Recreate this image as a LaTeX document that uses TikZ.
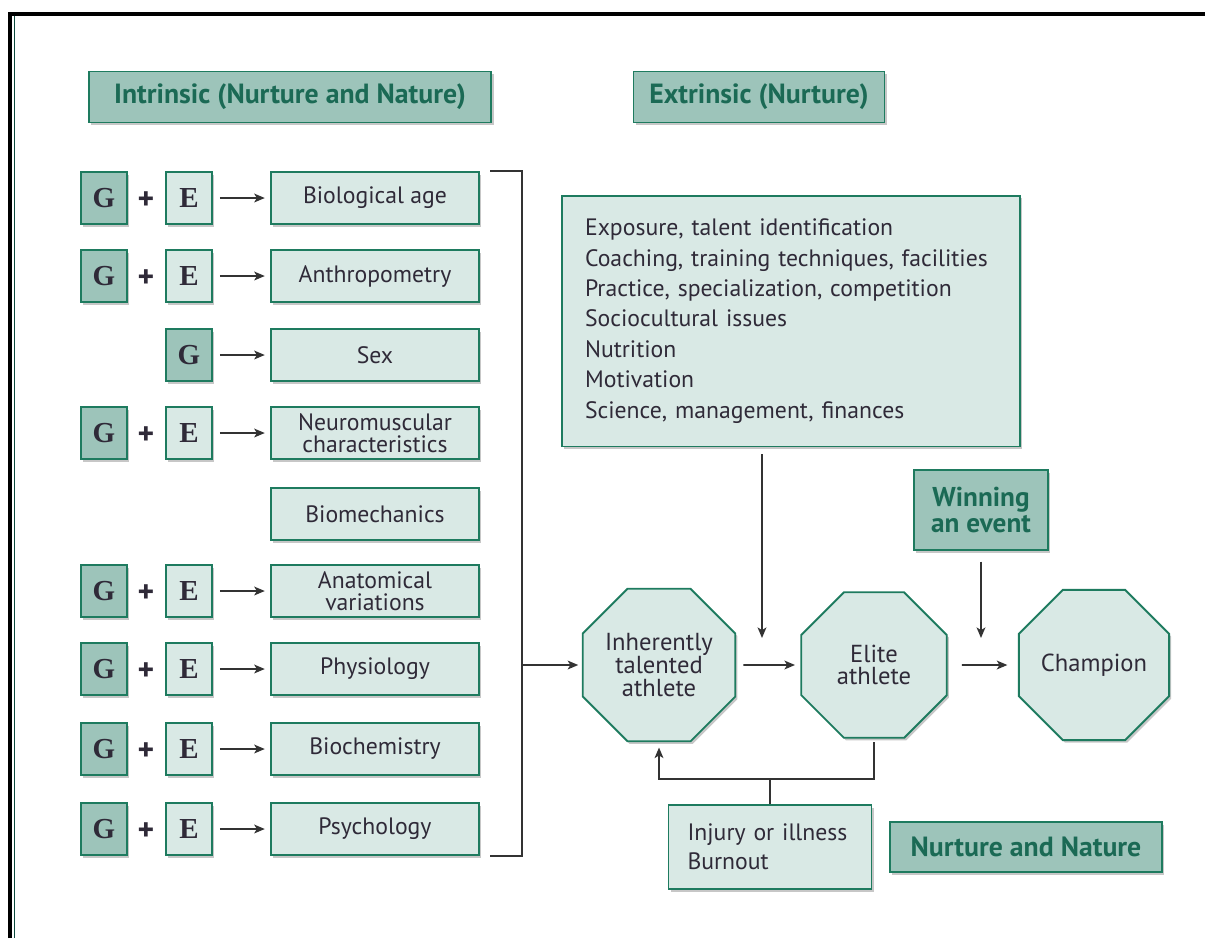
\documentclass[tikz,border=0pt]{standalone}
\usepackage{fontspec}
\setmainfont{PT Sans}
\newfontfamily\gefont{Liberation Serif}
\usetikzlibrary{positioning,shapes.geometric,arrows.meta,shadows}

\definecolor{boxdark}{HTML}{9DC4BA}
\definecolor{boxlight}{HTML}{D9E9E5}
\definecolor{boxline}{HTML}{1E7B5F}
\definecolor{headtext}{HTML}{1B6A55}
\definecolor{bodytext}{HTML}{2F2A38}
\definecolor{connline}{HTML}{333333}
\definecolor{frameteal}{HTML}{0E4B3F}

\tikzset{
  boxshadow/.style={drop shadow={shadow xshift=1.2pt,shadow yshift=-1.5pt,opacity=0.22,fill=black}},
  factor/.style={draw=boxline,line width=1.1pt,fill=boxlight,boxshadow,minimum width=4.16cm,minimum height=1.04cm,
    align=center,text=bodytext,font=\fontsize{13.5}{12.5}\selectfont,inner sep=1pt},
  gbox/.style={draw=boxline,line width=1.1pt,fill=boxdark,boxshadow,minimum width=0.92cm,minimum height=1.04cm,
    text=bodytext,font=\gefont\bfseries\fontsize{16.5}{16}\selectfont,inner sep=0pt},
  ebox/.style={gbox,fill=boxlight},
  headbox/.style={draw=boxline,line width=1.1pt,fill=boxdark,boxshadow,minimum height=1.02cm,inner sep=2pt,
    text=headtext,font=\bfseries\fontsize{15.8}{15}\selectfont,align=center},
  listbox/.style={draw=boxline,line width=1.1pt,fill=boxlight,boxshadow,inner sep=0pt,align=left,text=bodytext},
  stage/.style={regular polygon,regular polygon sides=8,draw=boxline,line width=1.1pt,fill=boxlight,boxshadow,
    minimum size=3.15cm,inner sep=0pt,align=center,text=bodytext,font=\fontsize{14}{13}\selectfont},
  plussign/.style={font=\bfseries\fontsize{18}{18}\selectfont,text=bodytext,inner sep=0pt,yshift=-1.5pt},
  conn/.style={draw=connline,line width=0.9pt},
  arr/.style={conn,-{Stealth[length=6pt,width=5pt,inset=1.5pt]}}
}

\begin{document}
\begin{tikzpicture}[x=0.02cm,y=-0.02cm]
\useasboundingbox (0,0) rectangle (1205,938);
\draw[black,line width=2.2pt] (10,938) -- (10,14) -- (1205,14);
\draw[frameteal,line width=1pt] (14.5,938) -- (14.5,16);
%%------------ headers
\node[headbox,minimum width=8.06cm] (intr) at (290,97) {Intrinsic (Nurture and Nature)};
\node[headbox,minimum width=5.02cm] (extr) at (759,97) {Extrinsic (Nurture)};
%%------------ intrinsic factors
\node[gbox] (g1) at (104,198) {G};
\node[plussign] at (146,198) {+};
\node[ebox] (e1) at (189,198) {E};
\node[factor] (bio) at (375,198) {Biological age};
\node[gbox] (g2) at (104,276) {G};
\node[plussign] at (146,276) {+};
\node[ebox] (e2) at (189,276) {E};
\node[factor] (anth) at (375,276) {Anthropometry};
\node[gbox] (g3) at (189,355) {G};
\node[factor] (sex) at (375,355) {Sex};
\node[gbox] (g4) at (104,433) {G};
\node[plussign] at (146,433) {+};
\node[ebox] (e4) at (189,433) {E};
\node[factor] (neuro) at (375,433) {Neuromuscular\\characteristics};
\node[factor] (biomech) at (375,514) {Biomechanics};
\node[gbox] (g6) at (104,591) {G};
\node[plussign] at (146,591) {+};
\node[ebox] (e6) at (189,591) {E};
\node[factor] (anat) at (375,591) {Anatomical\\variations};
\node[gbox] (g7) at (104,669) {G};
\node[plussign] at (146,669) {+};
\node[ebox] (e7) at (189,669) {E};
\node[factor] (phys) at (375,669) {Physiology};
\node[gbox] (g8) at (104,749) {G};
\node[plussign] at (146,749) {+};
\node[ebox] (e8) at (189,749) {E};
\node[factor] (bioch) at (375,749) {Biochemistry};
\node[gbox] (g9) at (104,829) {G};
\node[plussign] at (146,829) {+};
\node[ebox] (e9) at (189,829) {E};
\node[factor] (psy) at (375,829) {Psychology};
\draw[arr,shorten <=4pt,shorten >=3pt] (e1) -- (bio);
\draw[arr,shorten <=4pt,shorten >=3pt] (e2) -- (anth);
\draw[arr,shorten <=4pt,shorten >=3pt] (g3) -- (sex);
\draw[arr,shorten <=4pt,shorten >=3pt] (e4) -- (neuro);
\draw[arr,shorten <=4pt,shorten >=3pt] (e6) -- (anat);
\draw[arr,shorten <=4pt,shorten >=3pt] (e7) -- (phys);
\draw[arr,shorten <=4pt,shorten >=3pt] (e8) -- (bioch);
\draw[arr,shorten <=4pt,shorten >=3pt] (e9) -- (psy);
%%------------ bracket
\coordinate (brk) at (522,665);
\draw[conn] ([xshift=6pt]bio.north east) -- (brk |- bio.north east) -- (brk |- psy.south east) -- ([xshift=6pt]psy.south east);
%%------------ extrinsic and stages
\node[listbox,minimum width=9.16cm,minimum height=5.02cm,text width=8.24cm,font=\fontsize{13.5}{17.3}\selectfont] (ext) at (791,321)
  {Exposure, talent identification\\Coaching, training techniques, facilities\\Practice, specialization, competition\\Sociocultural issues\\Nutrition\\Motivation\\Science, management, finances};
\node[stage] (inh) at (659,665) {Inherently\\talented\\athlete};
\node[stage] (elite) at (874,665) {Elite\\athlete};
\node[stage] (champ) at (1094,665) {Champion};
\node[headbox,minimum width=2.68cm,minimum height=1.6cm,font=\bfseries\fontsize{15.5}{15}\selectfont] (win) at (981,510) {Winning\\an event};
\node[listbox,minimum width=4.06cm,minimum height=1.68cm,text width=3.3cm,font=\fontsize{13.5}{16.5}\selectfont] (inj) at (770,847) {Injury or illness\\Burnout};
\node[headbox,minimum width=5.44cm,minimum height=1.0cm] (nn) at (1026,847) {Nurture and Nature};
\draw[arr,shorten >=2pt] (brk) -- (brk -| inh.west);
\coordinate (extend) at (762,638);
\draw[arr,shorten <=4pt] (ext.south -| extend) -- (extend);
\draw[arr,shorten <=6pt] (win.south) -- (win.south |- extend);
\draw[arr,shorten <=4pt,shorten >=3pt] (inh) -- (elite);
\draw[arr,shorten <=8pt,shorten >=6pt] (elite) -- (champ);
%%------------ feedback
\coordinate (fb) at (770,779);
\draw[arr] ([yshift=-2pt]elite.south) |- (fb) -| ([yshift=-3pt]inh.south);
\draw[conn] (inj.north) -- (fb);
\end{tikzpicture}
\end{document}
